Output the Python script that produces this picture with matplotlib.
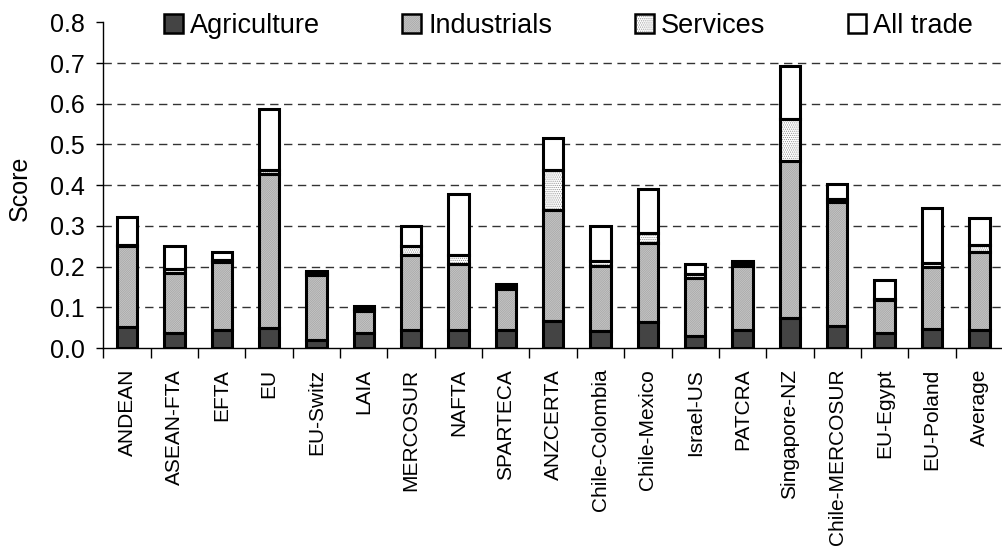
import numpy as np
import matplotlib
matplotlib.use("Agg")
import matplotlib.pyplot as plt
from matplotlib.patches import Patch
from matplotlib.legend_handler import HandlerTuple

# ── Data (stacked segments) ───────────────────────────────────────────────────
categories = ["ANDEAN", "ASEAN-FTA", "EFTA", "EU", "EU-Switz", "LAIA", "MERCOSUR",
              "NAFTA", "SPARTECA", "ANZCERTA", "Chile-Colombia", "Chile-Mexico",
              "Israel-US", "PATCRA", "Singapore-NZ", "Chile-MERCOSUR", "EU-Egypt",
              "EU-Poland", "Average"]
agriculture = [0.052, 0.036, 0.044, 0.050, 0.020, 0.036, 0.044, 0.043, 0.043, 0.067,
               0.042, 0.065, 0.030, 0.043, 0.073, 0.055, 0.038, 0.047, 0.044]
industrials = [0.199, 0.147, 0.168, 0.377, 0.159, 0.055, 0.184, 0.163, 0.103, 0.272,
               0.160, 0.192, 0.141, 0.159, 0.387, 0.303, 0.080, 0.153, 0.193]
services    = [0.002, 0.010, 0.003, 0.010, 0.005, 0.004, 0.023, 0.023, 0.006, 0.098,
               0.012, 0.026, 0.010, 0.006, 0.103, 0.007, 0.002, 0.010, 0.016]
all_trade   = [0.069, 0.058, 0.022, 0.149, 0.006, 0.008, 0.049, 0.149, 0.005, 0.078,
               0.086, 0.107, 0.025, 0.006, 0.130, 0.037, 0.047, 0.135, 0.066]
yticks = [0.0, 0.1, 0.2, 0.3, 0.4, 0.5, 0.6, 0.7, 0.8]

# label, face, hatch, hatch colour
STYLE = [("Agriculture", "#7a7a7a", "+" * 14, "#444444"),
         ("Industrials", "#d2d2d2", "/" * 18, "#a0a0a0"),
         ("Services",    "#ffffff", "." * 8,  "#8a8a8a"),
         ("All trade",   "#ffffff", None,     "#ffffff")]

plt.rcParams.update({"font.family": ["Liberation Sans", "DejaVu Sans"],
                     "hatch.linewidth": 0.5})

fig = plt.figure(figsize=(10.03, 5.49), dpi=100)
ax = fig.add_axes([103.3 / 1003, 201 / 549, (1003 - 103.3) / 1003, 325.7 / 549])

x = np.arange(len(categories))
W = 0.43
bottom = np.zeros(len(categories))
handles = []
for vals, (lab, face, hatch, hcol) in zip([agriculture, industrials, services, all_trade], STYLE):
    vals = np.array(vals)
    ax.bar(x, vals, W, bottom=bottom, color=face, hatch=hatch, edgecolor=hcol,
           linewidth=0, zorder=2)
    ax.bar(x, vals, W, bottom=bottom, fill=False, edgecolor="black",
           linewidth=2.2, zorder=3)
    bottom += vals
    handles.append((Patch(facecolor=face, hatch=hatch, edgecolor=hcol, linewidth=0),
                    Patch(fill=False, edgecolor="black", linewidth=1.8)))

# dashed grid (not at the top)
for yv in yticks[1:-1]:
    ax.axhline(yv, color="#333333", lw=1.0, dashes=(6, 4), zorder=1)

ax.set_xlim(-0.5, -0.5 + (1003 - 103.3) / 47.93)
ax.set_ylim(0, 0.8)
ax.set_yticks(yticks)
ax.set_yticklabels([f"{v:.1f}" for v in yticks], fontsize=18)
ax.tick_params(axis="y", direction="out", length=5, width=1, pad=8)

ax.set_xticks(x)
ax.set_xticklabels(categories, rotation=90, fontsize=15, va="top", ha="center")
ax.tick_params(axis="x", which="major", length=0, pad=15)
ax.set_xticks(np.arange(-0.5, len(categories), 1.0), minor=True)
ax.tick_params(axis="x", which="minor", direction="out", length=7, width=1)

for s in ["top", "right"]:
    ax.spines[s].set_visible(False)
for s in ["left", "bottom"]:
    ax.spines[s].set_linewidth(1.0)
    ax.spines[s].set_zorder(4)

ax.set_ylabel("Score", fontsize=18)
ax.yaxis.set_label_coords(-72 / 900, 0.49)

fig.legend(handles, [s[0] for s in STYLE], loc="center left",
           bbox_to_anchor=(164 / 1003, 1 - 26 / 549), ncol=4, frameon=False,
           fontsize=19.5, handlelength=0.7, handleheight=0.7, handletextpad=0.25,
           columnspacing=3.05, borderpad=0, borderaxespad=0,
           handler_map={tuple: HandlerTuple(ndivide=1, pad=0)})

fig.savefig("out.png", dpi=100)
